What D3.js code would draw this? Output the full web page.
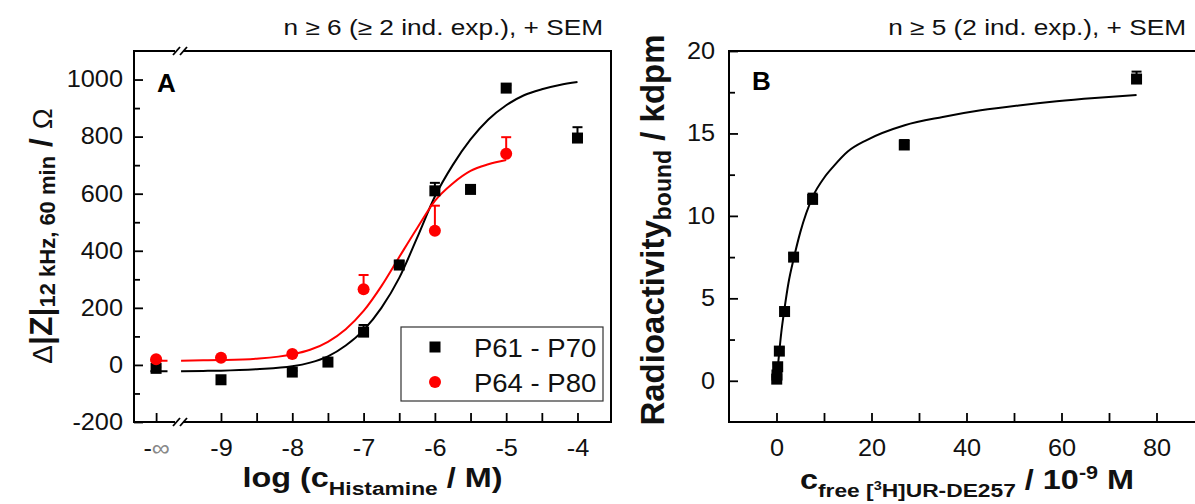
<!DOCTYPE html>
<html><head><meta charset="utf-8">
<script src="https://cdn.jsdelivr.net/npm/d3@7"></script>
<style>
body{margin:0;background:#fff;}
svg{display:block;}
</style></head><body>
<svg id="chart" width="1195" height="504"></svg>
<script>
// ---------- Panel A data ----------
const xTickPosA = [-9.91, -9, -8, -7, -6, -5, -4];
const xTickLabelsA = ["-\u221E", "-9", "-8", "-7", "-6", "-5", "-4"];
const xMinorA = [-8.5, -7.5, -6.5, -5.5, -4.5];
const yTicksA = [-200, 0, 200, 400, 600, 800, 1000];
const yMinorA = [-100, 100, 300, 500, 700, 900];

const logConcP61 = [-9.91, -9, -8, -7.5, -7, -6.5, -6, -5.5, -5, -4];
const meanP61 = [-12, -52, -25, 10, 115, 350, 610, 615, 970, 795];
const semP61 = [4, 4, 4, 4, 25, 15, 28, 4, 10, 38];

const logConcP64 = [-9.91, -9, -8, -7, -6, -5];
const meanP64 = [20, 25, 38, 265, 470, 740];
const semP64 = [5, 5, 5, 50, 88, 58];

// fitted curves (null = gap at axis break)
const fitXA = [-9.99, -9.75, -9.65, -9.56, -9.25, -9, -8.5, -8, -7.75, -7.5, -7.25, -7, -6.75, -6.5, -6.25, -6, -5.75, -5.5, -5.25, -5, -4.75, -4.5, -4.25, -4];
const fitP61 = [-22, -22, null, -22, -21, -20, -15, -5, 8, 30, 68, 122, 200, 305, 445, 590, 700, 790, 860, 910, 945, 966, 981, 991];
const fitP64 = [15, 15, null, 15, 16, 17, 22, 37, 53, 81, 125, 189, 276, 378, 479, 575, 636, 680, 703, 718, null, null, null, null];

// ---------- Panel B data ----------
const xTicksB = [0, 20, 40, 60, 80];
const xMinorB = [10, 30, 50, 70];
const yTicksB = [0, 5, 10, 15, 20];
const yMinorB = [2.5, 7.5, 12.5, 17.5];

const cFree = [0.05, 0.1, 0.25, 0.6, 1.7, 3.6, 7.6, 26.9, 75.8];
const bound = [0.1, 0.35, 0.85, 1.8, 4.2, 7.5, 11.0, 14.3, 18.3];
const semBound = [0.15, 0.15, 0.2, 0.2, 0.2, 0.2, 0.35, 0.3, 0.45];

const fitXB = [0, 0.5, 1, 1.7, 2.5, 3.7, 5, 7.7, 10, 12, 15, 19, 27, 35, 43, 51, 59, 67, 75.8];
const fitB = [0, 1.5, 2.9, 4.4, 5.9, 7.5, 9.0, 11.2, 12.3, 13.0, 13.9, 14.6, 15.5, 16.0, 16.4, 16.7, 16.95, 17.15, 17.33];

// ---------- setup ----------
const FONT = '"Liberation Sans", Arial, Helvetica, sans-serif';
const SX = 1.1;
const RED = "#ff0000";
const svg = d3.select("#chart").attr("font-family", FONT);

const xA = d3.scaleLinear().domain([-10.22, -3.53]).range([134, 611]);
const yA = d3.scaleLinear().domain([-200, 1100]).range([422, 51]);
const xB = d3.scaleLinear().domain([-10, 90]).range([729, 1204]);
const yB = d3.scaleLinear().domain([-2.5, 20]).range([422, 51]);

function axes(g, x, y, xt, xl, xm, yt, ym, yPad) {
  const [left, right] = x.range();
  const [bottom, top] = y.range();
  const bx = g.append("g").attr("transform", `translate(0,${bottom})`)
    .call(d3.axisBottom(x).tickValues(xt).tickFormat((d, i) => xl[i]).tickSize(-9).tickPadding(18));
  const bm = g.append("g").attr("transform", `translate(0,${bottom})`)
    .call(d3.axisBottom(x).tickValues(xm).tickFormat("").tickSize(-9));
  const ly = g.append("g").attr("transform", `translate(${left},0)`)
    .call(d3.axisLeft(y).tickValues(yt).tickFormat(d => String(d)).tickSize(-9).tickPadding(yPad));
  const lm = g.append("g").attr("transform", `translate(${left},0)`)
    .call(d3.axisLeft(y).tickValues(ym).tickFormat("").tickSize(-6));
  [bx, bm, ly, lm].forEach(a => {
    a.select(".domain").remove();
    a.attr("font-family", FONT).attr("font-size", 23);
    a.selectAll("line").attr("stroke", "#000").attr("stroke-width", 1.8);
    a.selectAll("text").attr("fill", "#111");
  });
  bx.selectAll("text").attr("transform", `scale(${SX},1)`);
  ly.selectAll("text").attr("x", 0).attr("transform", `translate(${-yPad},0) scale(${SX},1)`);
  g.append("rect").attr("x", left).attr("y", top).attr("width", right - left).attr("height", bottom - top)
    .attr("fill", "none").attr("stroke", "#000").attr("stroke-width", 2);
  return bx;
}

// ---------- Panel A ----------
const gA = svg.append("g");
const axA = axes(gA, xA, yA, xTickPosA, xTickLabelsA, xMinorA, yTicksA, yMinorA, 11);
const infText = axA.selectAll("text").filter((d, i) => i === 0);
infText.text(null);
infText.append("tspan").text("-");
infText.append("tspan").attr("fill", "#888").text("\u221E");

// axis breaks
[yA.range()[0], yA.range()[1]].forEach(yy => {
  gA.append("rect").attr("x", 175).attr("y", yy - 3).attr("width", 8).attr("height", 6).attr("fill", "#fff");
  [173, 180].forEach(x0 => gA.append("line")
    .attr("x1", x0).attr("y1", yy + 4).attr("x2", x0 + 7).attr("y2", yy - 4)
    .attr("stroke", "#000").attr("stroke-width", 1.8));
});

const lineA = (vals) => d3.line()
  .defined((d, i) => vals[i] !== null)
  .x((d, i) => xA(fitXA[i])).y((d, i) => yA(vals[i] === null ? 0 : vals[i]))
  .curve(d3.curveMonotoneX)(fitXA);

gA.append("path").attr("d", lineA(fitP61)).attr("fill", "none").attr("stroke", "#000").attr("stroke-width", 2);
gA.append("path").attr("d", lineA(fitP64)).attr("fill", "none").attr("stroke", RED).attr("stroke-width", 2);

function errBars(g, xs, ms, ss, x, y, color) {
  xs.forEach((xv, i) => {
    const px = x(xv), y0 = y(ms[i]), y1 = y(ms[i] + ss[i]);
    g.append("line").attr("x1", px).attr("x2", px).attr("y1", y0).attr("y2", y1).attr("stroke", color).attr("stroke-width", 2);
    g.append("line").attr("x1", px - 5).attr("x2", px + 5).attr("y1", y1).attr("y2", y1).attr("stroke", color).attr("stroke-width", 2);
  });
}
errBars(gA, logConcP61, meanP61, semP61, xA, yA, "#000");
errBars(gA, logConcP64, meanP64, semP64, xA, yA, RED);

gA.selectAll("rect.p61").data(logConcP61).join("rect").attr("class", "p61")
  .attr("x", d => xA(d) - 5.5).attr("y", (d, i) => yA(meanP61[i]) - 5.5)
  .attr("width", 11).attr("height", 11).attr("fill", "#000");
gA.selectAll("circle.p64").data(logConcP64).join("circle").attr("class", "p64")
  .attr("cx", d => xA(d)).attr("cy", (d, i) => yA(meanP64[i])).attr("r", 6).attr("fill", RED);

// legend
const lg = gA.append("g");
lg.append("rect").attr("x", 401).attr("y", 327).attr("width", 202).attr("height", 74)
  .attr("fill", "#fff").attr("stroke", "#333").attr("stroke-width", 1.2);
lg.append("rect").attr("x", 435 - 5.5).attr("y", 347 - 5.5).attr("width", 11).attr("height", 11).attr("fill", "#000");
lg.append("circle").attr("cx", 435).attr("cy", 382).attr("r", 6).attr("fill", RED);
[["P61 - P70", 356.5], ["P64 - P80", 391.5]].forEach(([t, yy]) =>
  lg.append("text").attr("transform", `translate(474,${yy}) scale(1.1,1)`).attr("font-size", 25).attr("fill", "#111").text(t));

// panel letter
gA.append("text").attr("x", 157).attr("y", 92).attr("font-size", 26).attr("font-weight", "bold").text("A");

// title
gA.append("text").attr("transform", "translate(603,35) scale(1.22,1)").attr("text-anchor", "end")
  .attr("font-size", 21.5).attr("fill", "#111").text("n \u2265 6 (\u2265 2 ind. exp.), + SEM");

// x title
const xtA = gA.append("text").attr("transform", "translate(372.5,487) scale(1.2,1)").attr("text-anchor", "middle")
  .attr("font-size", 27).attr("font-weight", "bold").attr("fill", "#111");
xtA.append("tspan").text("log (c");
xtA.append("tspan").attr("font-size", 19).attr("dy", 8).text("Histamine");
xtA.append("tspan").attr("dy", -8).text(" / M)");

// y title
const ytA = gA.append("text").attr("transform", "translate(52,236) rotate(-90)").attr("text-anchor", "middle")
  .attr("font-size", 32).attr("fill", "#111");
ytA.append("tspan").attr("font-size", 28).text("\u0394");
ytA.append("tspan").attr("font-weight", "bold").text("|Z|");
ytA.append("tspan").attr("font-weight", "bold").attr("font-size", 22).attr("dy", 3).text("12 kHz, 60 min");
ytA.append("tspan").attr("font-weight", "bold").attr("dy", -3).text(" / ");
ytA.append("tspan").attr("font-size", 28).text("\u03A9");

// ---------- Panel B ----------
const gB = svg.append("g");
axes(gB, xB, yB, xTicksB, xTicksB.map(String), xMinorB, yTicksB, yMinorB, 14);

gB.append("path").attr("d", d3.line().x((d, i) => xB(fitXB[i])).y((d, i) => yB(fitB[i])).curve(d3.curveMonotoneX)(fitXB))
  .attr("fill", "none").attr("stroke", "#000").attr("stroke-width", 2);
errBars(gB, cFree, bound, semBound, xB, yB, "#000");
gB.selectAll("rect.pb").data(cFree).join("rect").attr("class", "pb")
  .attr("x", d => xB(d) - 5.5).attr("y", (d, i) => yB(bound[i]) - 5.5)
  .attr("width", 11).attr("height", 11).attr("fill", "#000");

gB.append("text").attr("x", 752).attr("y", 90).attr("font-size", 26).attr("font-weight", "bold").text("B");
gB.append("text").attr("transform", "translate(1186,35) scale(1.22,1)").attr("text-anchor", "end")
  .attr("font-size", 21.5).attr("fill", "#111").text("n \u2265 5 (2 ind. exp.), + SEM");

const xtB = gB.append("text").attr("transform", "translate(967,489) scale(1.2,1)").attr("text-anchor", "middle")
  .attr("font-size", 27).attr("font-weight", "bold").attr("fill", "#111");
xtB.append("tspan").text("c");
xtB.append("tspan").attr("font-size", 19).attr("dy", 8).text("free [");
xtB.append("tspan").attr("font-size", 12).attr("dy", -7).text("3");
xtB.append("tspan").attr("font-size", 19).attr("dy", 7).text("H]UR-DE257");
xtB.append("tspan").attr("dy", -8).text(" / 10");
xtB.append("tspan").attr("font-size", 18).attr("dy", -10).text("-9");
xtB.append("tspan").attr("dy", 10).text(" M");

const ytB = gB.append("text").attr("transform", "translate(664,230) rotate(-90)").attr("text-anchor", "middle")
  .attr("font-size", 33).attr("font-weight", "bold").attr("fill", "#111");
ytB.append("tspan").text("Radioactivity");
ytB.append("tspan").attr("font-size", 23).attr("dy", 7).text("bound");
ytB.append("tspan").attr("dy", -7).text(" / kdpm");
</script>
</body></html>
